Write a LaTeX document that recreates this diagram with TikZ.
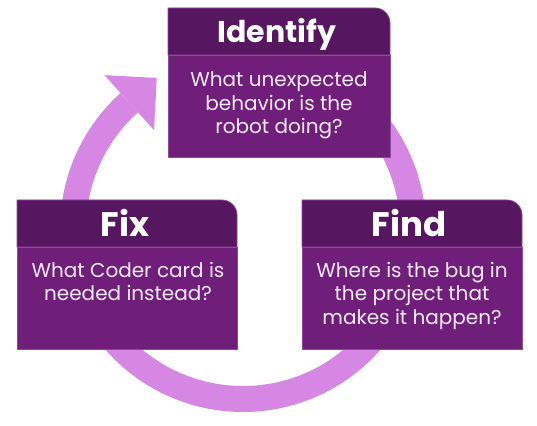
\documentclass[tikz,border=0pt]{standalone}
\usepackage{fontspec}
\setmainfont{Poppins}
\usepackage{tikz}
\usetikzlibrary{calc}
\definecolor{RingPink}{HTML}{D687E3}
\definecolor{HeadPurple}{HTML}{561660}
\definecolor{BodyPurple}{HTML}{6F1E7A}
\definecolor{EdgePurple}{HTML}{8A4A96}
\definecolor{QuestionText}{HTML}{F4EAF6}

\begin{document}
\begin{tikzpicture}[x=1pt, y=1pt,
    ring/.style={draw=RingPink, line width=26pt},
    headfill/.style={fill=HeadPurple, draw=EdgePurple, line width=0.8pt},
    bodyfill/.style={fill=BodyPurple, draw=EdgePurple, line width=0.8pt},
    title/.style={text=white, inner sep=0pt, anchor=base,
                  font=\bfseries\fontsize{34}{34}\selectfont},
    question/.style={text=QuestionText, inner sep=0pt, anchor=north,
                     align=center, font=\fontsize{20}{23.5}\selectfont}]
    \useasboundingbox (0,0) rectangle (537,425);

    % cycle arrow behind the boxes
    \coordinate (c) at (243,196);
    \draw[ring] ($(c)+(40:170)$) arc[start angle=40, end angle=-228, radius=170];
    \fill[RingPink] ($(c)+(132:133)$) -- ($(c)+(132:170)+(42:37)$)
        -- ($(c)+(132:207)$) -- cycle;

    % Identify
    \path[bodyfill] (168,268) rectangle (390,370);
    \path[headfill] (168,370) -- (168,417) -- (375,417)
        arc[start angle=90, end angle=0, radius=15] -- (390,370) -- cycle;
    \node[title, font=\bfseries\fontsize{30}{30}\selectfont] (identify) at (277,382) {Identify};
    \node[question] (idtext) at (279,353) {What unexpected\\behavior is the\\robot doing?};

    % Fix
    \path[bodyfill] (17,76) rectangle (237,178);
    \path[headfill] (17,178) -- (17,225) -- (222,225)
        arc[start angle=90, end angle=0, radius=15] -- (237,178) -- cycle;
    \node[title] (fix) at (125,188) {Fix};
    \node[question] (fixtext) at (128,163) {What Coder card is\\needed instead?};

    % Find
    \path[bodyfill] (302,76) rectangle (522,178);
    \path[headfill] (302,178) -- (302,225) -- (507,225)
        arc[start angle=90, end angle=0, radius=15] -- (522,178) -- cycle;
    \node[title] (find) at (409,188) {Find};
    \node[question] (findtext) at (412,163) {Where is the bug in\\the project that\\makes it happen?};
\end{tikzpicture}
\end{document}
